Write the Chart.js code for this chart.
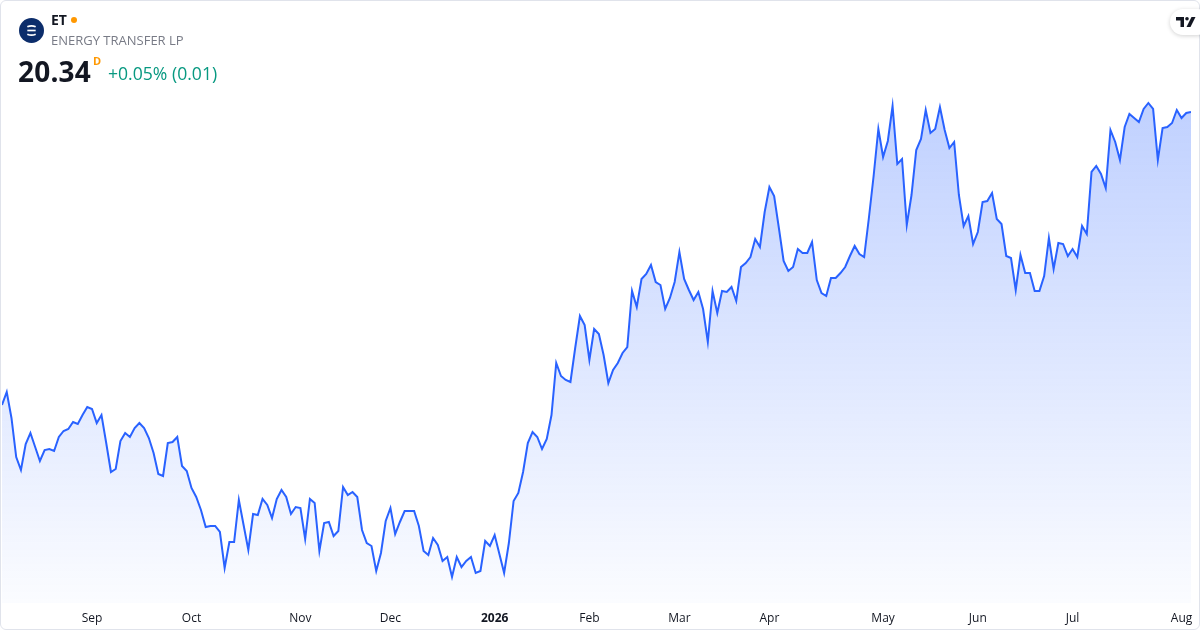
<!DOCTYPE html>
<html>
<head>
<meta charset="utf-8">
<script src="https://cdn.jsdelivr.net/npm/chart.js@4.4.1/dist/chart.umd.min.js"></script>
<style>
  html, body { margin:0; padding:0; background:#fff; }
  body { width:1200px; height:630px; position:relative; overflow:hidden; font-family:"Open Sans","Noto Sans",sans-serif; }
  #card { position:absolute; left:0; top:0; width:1198px; height:628px; border:1px solid #e0e3eb; border-radius:6px; }
  #wrap { position:absolute; left:0; top:0; width:1200px; height:630px; }
  .hdr { position:absolute; white-space:nowrap; }
  #logo { left:19px; top:18px; width:25px; height:25px; border-radius:50%; background:#0c2d6b; }
  #sym { left:51px; top:10px; font-size:14px; font-weight:700; color:#131722; }
  #dot { left:71px; top:17px; width:6px; height:6px; border-radius:50%; background:#ff9800; }
  #name { left:51px; top:31px; font-size:13px; color:#787b86; }
  #price { left:18px; top:52px; font-size:28px; font-weight:700; color:#131722; letter-spacing:0.2px; }
  #dd { left:93px; top:53px; font-size:11px; font-weight:700; color:#ff9800; }
  #chg { left:108px; top:61px; font-size:17.6px; color:#089981; }
  #tv { position:absolute; left:1170px; top:9px; width:40px; height:26px; border-radius:13px; background:#fff; box-shadow:0 1px 4px rgba(0,0,0,0.18); }
</style>
</head>
<body>
<div id="wrap"><canvas id="c" width="1200" height="630"></canvas></div>
<div id="card"></div>
<div class="hdr" id="logo">
  <svg width="25" height="25" viewBox="0 0 24 24">
    <path d="M8 8.5 Q12 6.5 16 8.5" stroke="#fff" stroke-width="1.6" fill="none"/>
    <path d="M8 12 L16 12" stroke="#fff" stroke-width="1.6" fill="none"/>
    <path d="M8 15.5 Q12 17.5 16 15.5" stroke="#fff" stroke-width="1.6" fill="none"/>
  </svg>
</div>
<div class="hdr" id="sym">ET</div>
<div class="hdr" id="dot"></div>
<div class="hdr" id="name">ENERGY TRANSFER LP</div>
<div class="hdr" id="price">20.34</div>
<div class="hdr" id="dd">D</div>
<div class="hdr" id="chg">+0.05% (0.01)</div>
<div id="tv">
  <svg style="position:absolute;left:6px;top:8px" width="20" height="10" viewBox="0 0 20 10">
    <path d="M0 0 H8 V10 H4.5 V3.5 H0 Z" fill="#131722"/>
    <circle cx="11" cy="1.8" r="1.8" fill="#131722"/>
    <path d="M15.5 0 H19.5 L14.5 10 H10.5 Z" fill="#131722"/>
  </svg>
</div>
<script>
// Daily closes, Aug 2025 - Aug 2026
const prices = [
17.41,17.54,17.28,16.89,16.76,17.02,17.13,16.99,16.85,16.96,
16.97,16.95,17.09,17.15,17.17,17.24,17.22,17.31,17.39,17.37,
17.23,17.31,17.03,16.74,16.77,17.05,17.13,17.09,17.18,17.23,
17.18,17.08,16.93,16.72,16.70,17.03,17.04,17.09,16.80,16.75,
16.58,16.49,16.36,16.19,16.20,16.20,16.14,15.78,16.04,16.04,
16.46,16.21,15.96,16.32,16.31,16.47,16.41,16.28,16.47,16.56,
16.49,16.32,16.39,16.38,16.07,16.47,16.43,15.95,16.23,16.24,
16.10,16.15,16.59,16.51,16.54,16.49,16.16,16.03,16.00,15.75,
15.93,16.25,16.38,16.12,16.24,16.35,16.35,16.35,16.20,15.95,
15.91,16.08,16.01,15.85,15.89,15.69,15.89,15.79,15.85,15.89,
15.73,15.75,16.05,16.00,16.11,15.92,15.73,16.03,16.45,16.53,
16.74,17.03,17.14,17.09,16.97,17.07,17.31,17.83,17.70,17.66,
17.64,17.98,18.30,18.21,17.86,18.17,18.12,17.91,17.63,17.76,
17.83,17.93,17.99,18.55,18.39,18.67,18.72,18.81,18.64,18.61,
18.37,18.48,18.64,18.94,18.67,18.56,18.46,18.54,18.37,18.04,
18.55,18.33,18.55,18.54,18.59,18.45,18.79,18.83,18.89,19.07,
18.99,19.34,19.59,19.50,19.18,18.85,18.75,18.79,18.97,18.93,
18.93,19.04,18.66,18.53,18.50,18.68,18.68,18.73,18.79,18.90,
19.00,18.92,18.89,19.28,19.70,20.17,19.89,20.05,20.40,19.82,
19.87,19.21,19.51,19.96,20.07,20.36,20.13,20.17,20.39,20.16,
19.98,20.04,19.51,19.20,19.30,19.02,19.14,19.44,19.45,19.53,
19.27,19.22,18.90,18.88,18.56,18.91,18.73,18.73,18.55,18.55,
18.70,19.08,18.77,19.03,19.02,18.90,18.97,18.89,19.20,19.12,
19.74,19.80,19.72,19.58,20.16,20.04,19.86,20.19,20.32,20.28,
20.24,20.37,20.43,20.37,19.86,20.18,20.19,20.23,20.36,20.28,
20.33,20.34
];
// x-axis labels and the trading-day index where each appears
const tickLabels = ["Sep","Oct","Nov","Dec","2026","Feb","Mar","Apr","May","Jun","Jul","Aug"];
const tickIndex  = [19, 40, 63, 82, 104, 124, 143, 162, 186, 206, 226, 249];

const points = prices.map((p, i) => ({ x: i, y: p }));
const labelAt = {};
tickIndex.forEach((v, k) => { labelAt[v] = tickLabels[k]; });

const ctx = document.getElementById('c').getContext('2d');
new Chart(ctx, {
  type: 'line',
  data: {
    datasets: [{
      data: points,
      borderColor: '#2962ff',
      borderWidth: 2,
      pointRadius: 0,
      tension: 0,
      fill: 'start',
      backgroundColor: (c) => {
        const a = c.chart.chartArea;
        if (!a) return 'rgba(41,98,255,0.2)';
        const g = c.chart.ctx.createLinearGradient(0, a.top, 0, a.bottom);
        g.addColorStop(0, 'rgba(41,98,255,0.30)');
        g.addColorStop(1, 'rgba(41,98,255,0.02)');
        return g;
      }
    }]
  },
  options: {
    responsive: false,
    animation: false,
    layout: { padding: { left: 2, right: 9, top: 90, bottom: 0 } },
    plugins: { legend: { display: false }, tooltip: { enabled: false } },
    scales: {
      x: {
        type: 'linear',
        min: 0,
        max: prices.length - 1,
        grid: { display: false },
        border: { display: false },
        afterBuildTicks: (s) => { s.ticks = tickIndex.map(v => ({ value: v })); },
        afterFit: (s) => { s.height = 27; },
        ticks: {
          autoSkip: false,
          maxRotation: 0,
          padding: 0,
          color: '#131722',
          font: (c) => ({ family: '"Open Sans","Noto Sans",sans-serif', size: 12, weight: (c.tick && labelAt[c.tick.value] === '2026') ? 'bold' : 'normal' }),
          callback: (v) => labelAt[v] || ''
        }
      },
      y: {
        display: false,
        min: 15.43,
        max: 20.56
      }
    }
  }
});
</script>
</body>
</html>
